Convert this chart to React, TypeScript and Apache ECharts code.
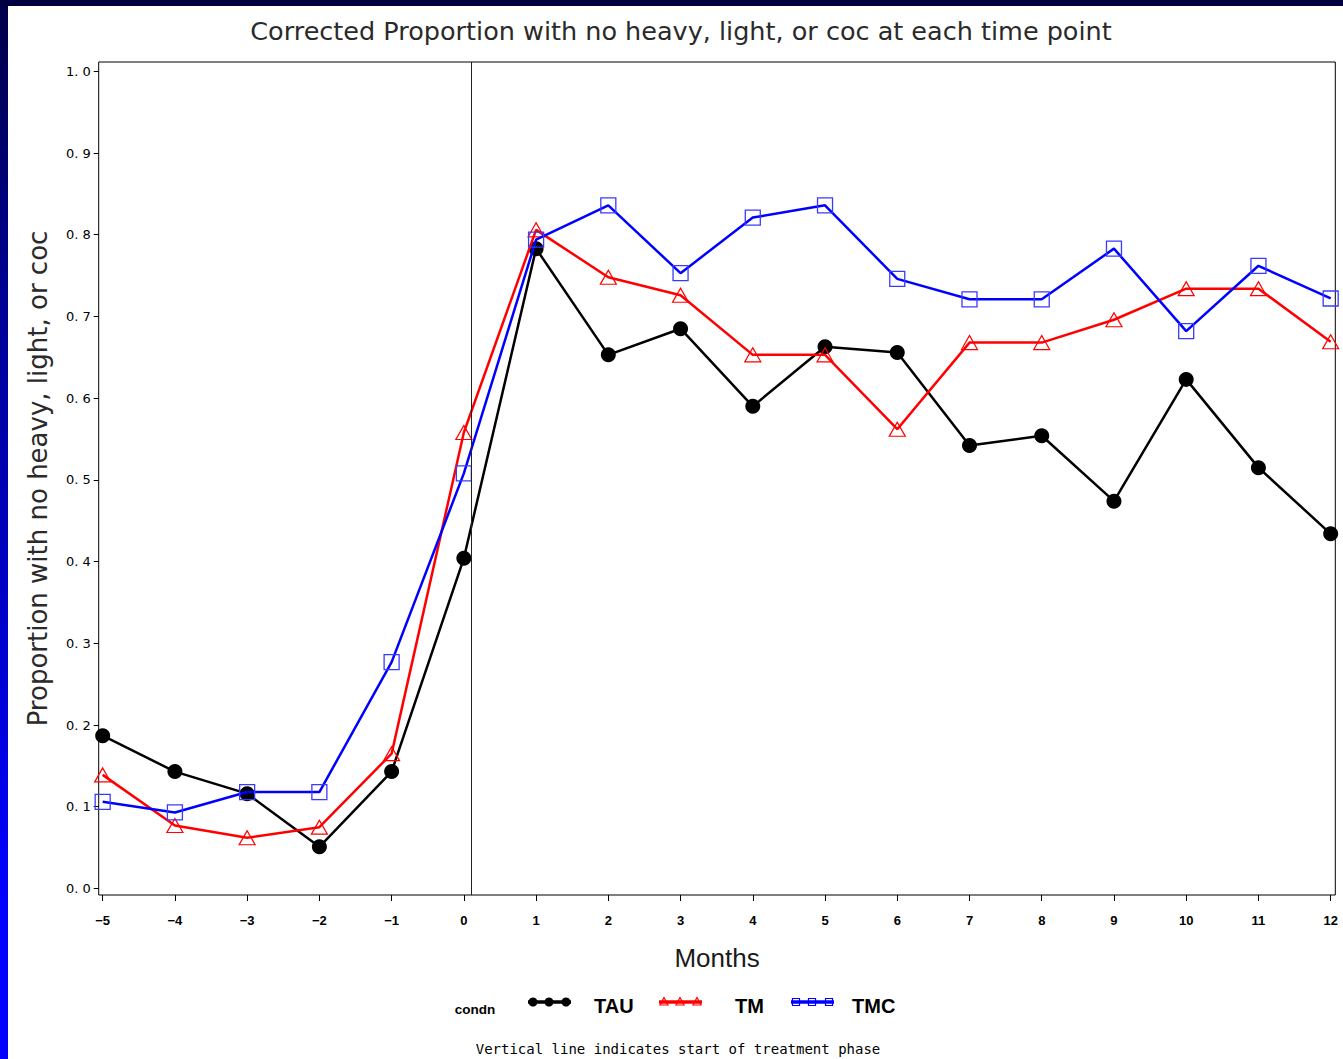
import React, { useEffect, useRef } from "react";
import * as echarts from "echarts";

// Months relative to the start of treatment
const months = [-5, -4, -3, -2, -1, 0, 1, 2, 3, 4, 5, 6, 7, 8, 9, 10, 11, 12];

// Corrected proportion with no heavy, light, or cocaine use, by condition
const tau = [0.187, 0.143, 0.116, 0.051, 0.143, 0.404, 0.783, 0.653, 0.685, 0.59, 0.663, 0.656, 0.542, 0.554, 0.474, 0.623, 0.515, 0.434];
const tm = [0.139, 0.077, 0.062, 0.075, 0.165, 0.558, 0.806, 0.748, 0.726, 0.653, 0.653, 0.562, 0.668, 0.668, 0.696, 0.734, 0.734, 0.669];
const tmc = [0.106, 0.093, 0.118, 0.118, 0.277, 0.508, 0.794, 0.836, 0.753, 0.821, 0.836, 0.746, 0.721, 0.721, 0.783, 0.682, 0.762, 0.722];

const yTicks = [0, 0.1, 0.2, 0.3, 0.4, 0.5, 0.6, 0.7, 0.8, 0.9, 1.0];
const treatmentStart = 0.1;

const titleText = "Corrected Proportion with no heavy, light, or coc at each time point";
const yTitle = "Proportion with no heavy, light, or coc";
const xTitle = "Months";
const legendTitle = "condn";
const groupNames = ["TAU", "TM", "TMC"];
const footnote = "Vertical line indicates start of treatment phase";

const SANS = "'Liberation Sans', Arial, sans-serif";
const WIDE = "'DejaVu Sans', sans-serif";

function pairs(values: number[]) {
  return months.map((m, i) => [m, values[i]]);
}

// small legend sample: a short line with three markers on it
function legendSample(x: number, y: number, kind: string, color: string) {
  const children: any[] = [
    {
      type: "line",
      shape: { x1: x, y1: y, x2: x + 43, y2: y },
      style: { stroke: color, lineWidth: 3.5 },
    },
  ];
  [5, 21, 38].forEach((dx) => {
    const cx = x + dx;
    if (kind === "circle") {
      children.push({ type: "circle", shape: { cx, cy: y, r: 4.5 }, style: { fill: color } });
    } else if (kind === "triangle") {
      children.push({
        type: "polygon",
        shape: { points: [[cx, y - 4.5], [cx + 4, y + 3], [cx - 4, y + 3]] },
        style: { fill: "none", stroke: color, lineWidth: 1.2 },
      });
    } else {
      children.push({
        type: "rect",
        shape: { x: cx - 3.5, y: y - 3.5, width: 7, height: 7 },
        style: { fill: "none", stroke: color, lineWidth: 1.2 },
      });
    }
  });
  return { type: "group", children };
}

export default function App() {
  const ref = useRef<HTMLDivElement>(null);

  useEffect(() => {
    const chart = echarts.init(ref.current!, null, { renderer: "svg" });

    const legendY = 1002;
    const legendTextStyle = { fontFamily: SANS, fontSize: 20, fontWeight: "bold", fill: "#000" };

    chart.setOption({
      animation: false,
      backgroundColor: "#ffffff",
      title: {
        text: titleText,
        left: 676,
        textAlign: "center",
        top: 13,
        textStyle: { fontFamily: WIDE, fontSize: 25.5, fontWeight: "normal", color: "#2a2a2a" },
      },
      grid: {
        left: 98.7,
        top: 62,
        width: 1236.6,
        height: 833,
        show: true,
        borderColor: "#000",
        borderWidth: 1,
        backgroundColor: "transparent",
        containLabel: false,
        outerBoundsMode: "none",
      },
      xAxis: {
        type: "value",
        min: -5.055,
        max: 12.064,
        name: xTitle,
        nameLocation: "middle",
        nameGap: 50,
        nameTextStyle: { fontFamily: SANS, fontSize: 26, color: "#1a1a1a" },
        axisLine: { show: false, onZero: false },
        axisTick: { show: true, customValues: months, length: 6, lineStyle: { color: "#000", width: 1 } },
        axisLabel: {
          customValues: months,
          formatter: (v: number) => (v < 0 ? "\u2212" + Math.abs(v) : String(v)),
          fontFamily: SANS,
          fontSize: 13,
          fontWeight: "bold",
          color: "#000",
          margin: 19,
        },
        splitLine: { show: false },
      },
      yAxis: {
        type: "value",
        min: -0.008,
        max: 1.0114,
        name: yTitle,
        nameLocation: "middle",
        nameRotate: 90,
        nameGap: 48,
        nameTextStyle: { fontFamily: WIDE, fontSize: 26, fontWeight: "normal", color: "#2a2a2a" },
        axisLine: { show: false, onZero: false },
        axisTick: { show: true, customValues: yTicks, length: 5, lineStyle: { color: "#000", width: 1 } },
        axisLabel: {
          customValues: yTicks,
          formatter: (v: number) => v.toFixed(1).replace(".", ". "),
          fontFamily: WIDE,
          fontSize: 13,
          color: "#000",
          margin: 8,
        },
        splitLine: { show: false },
      },
      series: [
        {
          name: "TAU",
          type: "line",
          data: pairs(tau),
          symbol: "circle",
          symbolSize: 15,
          itemStyle: { color: "#000" },
          lineStyle: { color: "#000", width: 2.5 },
          z: 2,
          markLine: {
            silent: true,
            symbol: ["none", "none"],
            label: { show: false },
            lineStyle: { color: "#222", width: 1, type: "solid" },
            data: [{ xAxis: treatmentStart }],
          },
        },
        {
          name: "TM",
          type: "line",
          data: pairs(tm),
          symbol: "triangle",
          symbolSize: [16, 14],
          itemStyle: { color: "rgba(0,0,0,0)", borderColor: "#ff0000", borderWidth: 1.2 },
          lineStyle: { color: "#ff0000", width: 2.5 },
          z: 3,
        },
        {
          name: "TMC",
          type: "line",
          data: pairs(tmc),
          symbol: "rect",
          symbolSize: 15,
          itemStyle: { color: "rgba(0,0,0,0)", borderColor: "#3a3aff", borderWidth: 1.3 },
          lineStyle: { color: "#0000ff", width: 2.5 },
          z: 4,
        },
      ],
      graphic: [
        {
          type: "rect",
          shape: { x: 0, y: 0, width: 8, height: 1059 },
          style: {
            fill: new echarts.graphic.LinearGradient(0, 0, 0, 1, [
              { offset: 0, color: "#000048" },
              { offset: 0.3, color: "#000098" },
              { offset: 0.6, color: "#0000cc" },
              { offset: 0.85, color: "#0000ff" },
              { offset: 1, color: "#0000ff" },
            ]),
          },
          silent: true,
        },
        {
          type: "rect",
          shape: { x: 0, y: 0, width: 1343, height: 6 },
          style: { fill: "#000040" },
          silent: true,
        },
        {
          type: "text",
          x: 475,
          y: 1009,
          style: { text: legendTitle, fontFamily: SANS, fontSize: 13.5, fontWeight: "bold", fill: "#000", textAlign: "center", textVerticalAlign: "middle" },
        },
        legendSample(528, legendY, "circle", "#000"),
        {
          type: "text",
          x: 594,
          y: 1006,
          style: { text: groupNames[0], ...legendTextStyle, textAlign: "left", textVerticalAlign: "middle" },
        },
        legendSample(659, legendY, "triangle", "#ff0000"),
        {
          type: "text",
          x: 735,
          y: 1006,
          style: { text: groupNames[1], ...legendTextStyle, textAlign: "left", textVerticalAlign: "middle" },
        },
        legendSample(791, legendY, "square", "#0000ff"),
        {
          type: "text",
          x: 852,
          y: 1006,
          style: { text: groupNames[2], ...legendTextStyle, textAlign: "left", textVerticalAlign: "middle" },
        },
        {
          type: "text",
          x: 678,
          y: 1049,
          style: {
            text: footnote,
            fontFamily: "'DejaVu Sans Mono', monospace",
            fontSize: 14,
            fill: "#000",
            textAlign: "center",
            textVerticalAlign: "middle",
          },
        },
      ],
    });

    return () => chart.dispose();
  }, []);

  return (
    <div
      ref={ref}
      style={{ position: "fixed", left: 0, top: 0, width: 1343, height: 1059, background: "#ffffff" }}
    />
  );
}
